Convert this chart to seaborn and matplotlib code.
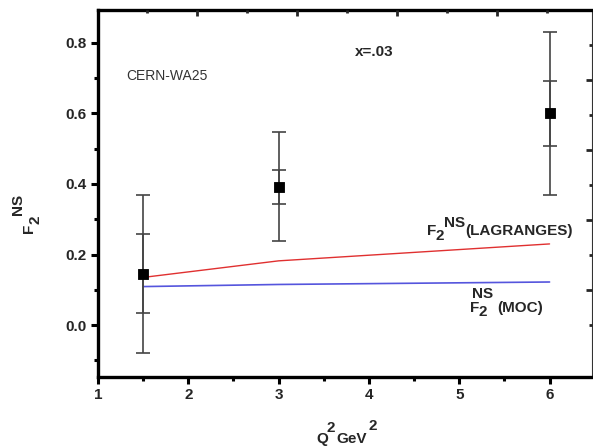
import numpy as np
import pandas as pd
import matplotlib
matplotlib.use('Agg')
import matplotlib.pyplot as plt
import seaborn as sns
from matplotlib.ticker import MultipleLocator, FormatStrFormatter

# data
q2 = [1.5, 3.0, 6.0]
f2_data = [0.145, 0.392, 0.600]
err_stat = [0.112, 0.048, 0.093]
err_tot = [0.225, 0.155, 0.230]
f2_lagranges = [0.135, 0.182, 0.230]
f2_moc = [0.109, 0.115, 0.122]

sns.set_style('white')
plt.rcParams['font.family'] = ['Liberation Sans', 'DejaVu Sans']

df = pd.DataFrame({'Q2': q2, 'F2': f2_data, 'lag': f2_lagranges, 'moc': f2_moc})

W, H = 593, 447
fig = plt.figure(figsize=(W / 100, H / 100), dpi=100)
ax = fig.add_axes([98/W, 70/H, 494/W, 367/H])

sns.lineplot(data=df, x='Q2', y='lag', color='#e03030', lw=1.0, ax=ax)
sns.lineplot(data=df, x='Q2', y='moc', color='#5555dd', lw=1.2, ax=ax)

ax.errorbar(q2, f2_data, yerr=err_tot, fmt='none', ecolor='#444444',
            elinewidth=1.2, capsize=5, capthick=1.2)
ax.errorbar(q2, f2_data, yerr=err_stat, fmt='none', ecolor='#444444',
            elinewidth=1.2, capsize=5, capthick=1.2)
sns.scatterplot(data=df, x='Q2', y='F2', marker='s', s=60, color='black',
                edgecolor='black', zorder=5, ax=ax)

ax.set_xlim(1, 6.47)
ax.set_ylim(-0.1475, 0.8936)
ax.xaxis.set_major_locator(MultipleLocator(1))
ax.xaxis.set_minor_locator(MultipleLocator(0.5))
ax.yaxis.set_major_locator(MultipleLocator(0.2))
ax.yaxis.set_minor_locator(MultipleLocator(0.1))
ax.yaxis.set_major_formatter(FormatStrFormatter('%.1f'))
ax.tick_params(which='major', direction='out', length=5, width=2.2,
               labelsize=11, bottom=True, left=True, color='black', pad=3)
ax.tick_params(which='minor', direction='out', length=3, width=2.2,
               bottom=True, left=True, color='black')
for lab in ax.get_xticklabels() + ax.get_yticklabels():
    lab.set_fontweight('bold')
ax.set_xlabel('')
ax.set_ylabel('')

for side in ['left', 'bottom', 'top']:
    ax.spines[side].set_linewidth(2.4)
    ax.spines[side].set_color('black')
ax.spines['right'].set_linewidth(0.8)
ax.spines['right'].set_color('#333333')

# top ticks (separate scale)
axt = ax.twiny()
axt.set_xlim(-0.98, 8.9)
axt.set_xticks([1, 3, 5, 7])
axt.set_xticks([0, 2, 4, 6, 8], minor=True)
axt.tick_params(which='major', direction='in', length=4, width=2, labeltop=False)
axt.tick_params(which='minor', direction='in', length=2.5, width=2, labeltop=False)

# right ticks (separate scale)
axr = ax.twinx()
axr.set_ylim(-1.5, 9)
axr.set_yticks([1, 3, 5, 7])
axr.set_yticks([0, 2, 4, 6, 8], minor=True)
axr.tick_params(which='major', direction='in', length=4, width=2, labelright=False)
axr.tick_params(which='minor', direction='in', length=2.5, width=2, labelright=False)
for a in (axt, axr):
    for s in a.spines.values():
        s.set_visible(False)

ax.text(1.31, 0.705, 'CERN-WA25', fontsize=10, color='#333333', va='center')
ax.text(3.85, 0.774, 'x=.03', fontsize=11, fontweight='bold', va='center')

PX = 72 / 100  # points per pixel


def label(x, y, parts, fs=11, transform=None, rot=False):
    # parts after the first: (text, anchor index, fraction along anchor, dx px, dy px)
    kw = dict(fontsize=fs, fontweight='bold')
    if rot:
        kw.update(rotation=90, rotation_mode='anchor')
    arts = [ax.text(x, y, parts[0][0], transform=transform or ax.transData,
                    ha='left', va='baseline', clip_on=False, **kw)]
    for txt, idx, fx, dx, dy in parts[1:]:
        if rot:
            xy, off = (1, fx), (-dy * PX, dx * PX)
        else:
            xy, off = (fx, 0), (dx * PX, dy * PX)
        arts.append(ax.annotate(txt, xy=xy, xycoords=arts[idx], xytext=off,
                                textcoords='offset points', ha='left',
                                va='bottom', **kw))


label(4.643, 0.255, [('F',), ('2', 0, 1, -1, -5), ('NS', 1, 1, 0, 13),
                     ('(LAGRANGES)', 2, 1, 0, -8)])
label(5.12, 0.037, [('F',), ('2', 0, 1, -1, -4), ('NS', 0, 0, 2, 14),
                    ('(MOC)', 2, 1, 4, -14)])
# axis titles
label(316 / W, 1 - 443 / H, [('Q',), ('2', 0, 1, -1, 11), ('GeV', 1, 1, 1, -11),
                             ('2', 2, 1, 2, 13)], transform=fig.transFigure)
label(33 / W, 1 - 233 / H, [('F',), ('2', 0, 1, 0, -6), ('NS', 1, 1, 0, 17)],
      transform=fig.transFigure, rot=True)

fig.savefig('out.png', dpi=100)
